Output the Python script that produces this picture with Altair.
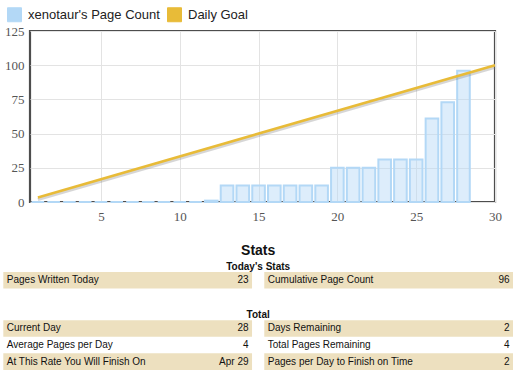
import altair as alt
import pandas as pd

# ---------------- data ----------------
days = [1, 2, 3, 4, 5, 6, 7, 8, 9, 10, 11, 12, 13, 14,
        15, 16, 17, 18, 19, 20, 21, 22, 23, 24, 25, 26, 27, 28]
page_counts = [0, 0, 0, 0, 0, 0, 0, 0, 0, 0, 0, 1, 12, 12,
               12, 12, 12, 12, 12, 25, 25, 25, 31, 31, 31, 61, 73, 96]
goal_days = [1, 30]
goal_pages = [3.33, 100]

series_names = ["xenotaur's Page Count", "Daily Goal"]
series_colors = ["#b3d8f6", "#e8bb38"]

x_ticks = [5, 10, 15, 20, 25, 30]
y_ticks = [0, 25, 50, 75, 100, 125]

stats_title = "Stats"
today_title = "Today's Stats"
total_title = "Total"
today_labels = ["Pages Written Today", "Cumulative Page Count"]
today_values = ["23", "96"]
total_labels = ["Current Day", "Days Remaining",
                "Average Pages per Day", "Total Pages Remaining",
                "At This Rate You Will Finish On", "Pages per Day to Finish on Time"]
total_values = ["28", "2", "4", "4", "Apr 29", "2"]

# ---------------- tables ----------------
bars_df = pd.DataFrame({"day": days, "pages": page_counts, "series": series_names[0]})
bars_df["d0"] = bars_df["day"] - 0.4
bars_df["d1"] = bars_df["day"] + 0.4
goal_df = pd.DataFrame({"day": goal_days, "pages": goal_pages, "series": series_names[1]})

rows = []
for section, labels, values, start in [("today", today_labels, today_values, 0.0),
                                       ("total", total_labels, total_values, 2.9)]:
    for i, (lab, val) in enumerate(zip(labels, values)):
        col = i % 2
        r = i // 2
        rows.append({"label": lab, "value": val, "col": col,
                     "pos": start + r, "shade": r % 2 == 0})
cells_df = pd.DataFrame(rows)
cells_df["x0"] = cells_df["col"] * 1.024
cells_df["x1"] = cells_df["x0"] + 0.976
cells_df["y0"] = cells_df["pos"] - 0.5
cells_df["y1"] = cells_df["pos"] + 0.5

titles_df = pd.DataFrame({"text": [stats_title, today_title, total_title],
                          "pos": [-1.75, -0.78, 2.07],
                          "center": [1, 1, 1],
                          "size": [14, 10, 10]})

# ---------------- plot ----------------
SERIF = "Liberation Serif"
color_scale = alt.Scale(domain=series_names, range=series_colors)
xs = alt.Scale(domain=[0.5, 30], nice=False, zero=False)
ys = alt.Scale(domain=[0, 125], nice=False, zero=True)

x_axis = alt.Axis(values=x_ticks, grid=True, gridColor="#e3e3e3", ticks=False, domain=False,
                  labelFont=SERIF, labelFontSize=13, labelColor="#555555",
                  labelPadding=8, labelFlush=False, labelOverlap=False, title=None)
y_axis = alt.Axis(values=y_ticks, grid=True, gridColor="#e3e3e3", ticks=False, domain=False,
                  labelFont=SERIF, labelFontSize=13, labelColor="#555555",
                  labelPadding=6, labelFlush=False, labelOverlap=False, title=None)

legend = alt.Legend(title=None, orient="none", legendX=-23, legendY=-24,
                    direction="horizontal", symbolType="square", symbolSize=196,
                    symbolStrokeColor="#c6c6c6", symbolStrokeWidth=1, symbolOpacity=1,
                    labelFont="Liberation Sans", labelFontSize=13, labelColor="#222222",
                    labelOffset=6, columnPadding=5, padding=0)

bars = alt.Chart(bars_df).mark_bar(fillOpacity=0.45, stroke="#b3d8f6", strokeWidth=2).encode(
    x=alt.X("d0:Q", scale=xs, axis=x_axis),
    x2="d1:Q",
    y=alt.Y("pages:Q", scale=ys, axis=y_axis),
    y2=alt.datum(0),
    color=alt.Color("series:N", scale=color_scale, legend=legend),
)

shadow = alt.Chart(goal_df).mark_line(color="#777777", opacity=0.3, strokeWidth=3, yOffset=2).encode(
    x=alt.X("day:Q", scale=xs, axis=x_axis),
    y=alt.Y("pages:Q", scale=ys, axis=y_axis),
)

goal = alt.Chart(goal_df).mark_line(strokeWidth=2.5).encode(
    x=alt.X("day:Q", scale=xs, axis=x_axis),
    y=alt.Y("pages:Q", scale=ys, axis=y_axis),
    color=alt.Color("series:N", scale=color_scale, legend=legend),
)

plot = alt.layer(bars, shadow, goal)

# ---------------- stats table ----------------
txs = alt.Scale(domain=[0, 2], range=[-26.7, 483], nice=False, zero=False)
tys = alt.Scale(domain=[0, 1], range=[249.3, 265.9], nice=False, zero=False)

cell_rects = alt.Chart(cells_df).transform_filter("datum.shade").mark_rect(color="#ede0bf").encode(
    x=alt.X("x0:Q", scale=txs, axis=None),
    x2="x1:Q",
    y=alt.Y("y0:Q", scale=tys, axis=None),
    y2="y1:Q",
)
cell_labels = alt.Chart(cells_df).mark_text(
    align="left", baseline="middle", dx=3.5, font="Liberation Sans", fontSize=10, color="#111111"
).encode(
    x=alt.X("x0:Q", scale=txs, axis=None),
    y=alt.Y("pos:Q", scale=tys, axis=None),
    text="label:N",
)
cell_values = alt.Chart(cells_df).mark_text(
    align="right", baseline="middle", dx=-3.5, font="Liberation Sans", fontSize=10, color="#111111"
).encode(
    x=alt.X("x1:Q", scale=txs, axis=None),
    y=alt.Y("pos:Q", scale=tys, axis=None),
    text="value:N",
)
titles = alt.Chart(titles_df).mark_text(
    align="center", baseline="middle", font="Liberation Sans", fontWeight="bold", color="#111111"
).encode(
    x=alt.X("center:Q", scale=txs, axis=None),
    y=alt.Y("pos:Q", scale=tys, axis=None),
    text="text:N",
    size=alt.Size("size:Q", scale=None, legend=None),
)

table = alt.layer(cell_rects, cell_labels, cell_values, titles)

chart = alt.layer(plot, table).resolve_scale(x="independent", y="independent").properties(
    width=465, height=171,
    autosize=alt.AutoSizeParams(type="none"),
    padding={"left": 30, "top": 31, "right": 22, "bottom": 174},
).configure_view(
    stroke="#4d4d4d", strokeWidth=2.2
).configure_axis(
    labelFont=SERIF, labelFontSize=13, labelColor="#555555"
)

chart.save("out.html", embed_options={"renderer": "svg", "actions": False})
